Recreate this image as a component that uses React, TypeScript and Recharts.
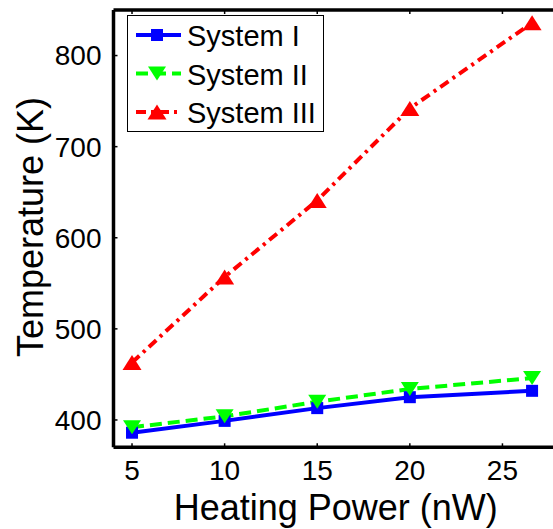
import React from "react";
import { LineChart, Line, XAxis, YAxis, Legend, ReferenceLine } from "recharts";

// heating power (nW) and temperature (K)
const power = [5, 10, 15, 20, 26.6];
const systemI = [386, 399, 413, 425, 432];
const systemII = [392, 404, 420, 434, 446];
const systemIII = [463, 557, 641, 742, 836];

const seriesNames = ["System I", "System II", "System III"];
const xTicks = [5, 10, 15, 20, 25];
const yTicks = [400, 500, 600, 700, 800];

const FONT = "'Liberation Sans', Arial, Helvetica, sans-serif";
const BLUE = "#0000ff";
const GREEN = "#00ff00";
const RED = "#ff0000";

const data = power.map((p, i) => ({
  power: p,
  s1: systemI[i],
  s2: systemII[i],
  s3: systemIII[i],
}));

function Square(props: any) {
  const { cx, cy } = props;
  if (cx == null || cy == null) return null;
  return <rect x={cx - 6} y={cy - 6} width={12} height={12} fill={BLUE} />;
}

function TriDown(props: any) {
  const { cx, cy } = props;
  if (cx == null || cy == null) return null;
  return <polygon points={`${cx - 9},${cy - 7} ${cx + 9},${cy - 7} ${cx},${cy + 7}`} fill={GREEN} />;
}

function TriUp(props: any) {
  const { cx, cy } = props;
  if (cx == null || cy == null) return null;
  return <polygon points={`${cx - 9.5},${cy + 7.5} ${cx + 9.5},${cy + 7.5} ${cx},${cy - 7.5}`} fill={RED} />;
}

const legendStyles = [
  { color: BLUE, dash: undefined as string | undefined, Marker: Square },
  { color: GREEN, dash: "12 6", Marker: TriDown },
  { color: RED, dash: "10 5 3 5", Marker: TriUp },
];

function LegendBox() {
  return (
    <svg width={197} height={117} style={{ display: "block" }}>
      <rect x={0.5} y={0.5} width={196} height={116} fill="#fff" stroke="#000" strokeWidth={1} />
      {seriesNames.map((name, i) => {
        const y = 20 + i * 38.5;
        const st = legendStyles[i];
        const M = st.Marker;
        return (
          <g key={name}>
            <line x1={9} x2={54} y1={y} y2={y} stroke={st.color} strokeWidth={4} strokeDasharray={st.dash} />
            <M cx={30} cy={y} />
            <text x={60} y={y + 11} fontSize={29} fontFamily={FONT} fill="#000">
              {name}
            </text>
          </g>
        );
      })}
    </svg>
  );
}

function YTitle() {
  const x = 43;
  const y = 227;
  return (
    <text x={x} y={y} transform={`rotate(-90, ${x}, ${y})`} textAnchor="middle" fontSize={36} fontFamily={FONT} fill="#000">
      Temperature (K)
    </text>
  );
}

export default function App() {
  // the figure is cropped on the right: the plot frame runs a few pixels past the page edge
  return (
    <div style={{ position: "absolute", left: 0, top: 0, width: 553, height: 529, overflow: "hidden", background: "#fff" }}>
      <LineChart width={553} height={529} data={data} margin={{ top: 10, right: -5, bottom: 0, left: 0 }}>
        <XAxis
          dataKey="power"
          type="number"
          domain={[4, 28]}
          ticks={xTicks}
          allowDataOverflow
          height={81.7}
          axisLine={{ stroke: "#000", strokeWidth: 3.5 }}
          tickLine={{ stroke: "#000", strokeWidth: 1.5 }}
          tickSize={-4}
          tickMargin={17}
          tick={{ fontSize: 28, fill: "#000", fontFamily: FONT }}
          label={{ value: "Heating Power (nW)", position: "insideBottom", offset: 9, fontSize: 36, fill: "#000", fontFamily: FONT }}
        />
        <YAxis
          type="number"
          domain={[370, 850]}
          ticks={yTicks}
          allowDataOverflow
          width={113.5}
          axisLine={{ stroke: "#000", strokeWidth: 3.5 }}
          tickLine={{ stroke: "#000", strokeWidth: 1.5 }}
          tickSize={-4}
          tickMargin={16}
          tick={{ fontSize: 28, fill: "#000", fontFamily: FONT }}
          label={<YTitle />}
        />
        <ReferenceLine y={850} stroke="#000" strokeWidth={3.5} ifOverflow="visible" />
        {xTicks.map((t) => (
          <ReferenceLine key={t} segment={[{ x: t, y: 850 }, { x: t, y: 845.6 }]} stroke="#000" strokeWidth={1.5} ifOverflow="visible" />
        ))}
        <Legend
          layout="horizontal"
          verticalAlign="middle"
          align="center"
          content={() => <LegendBox />}
          wrapperStyle={{ position: "absolute", left: 127, top: 15, width: 197, height: 117 }}
        />
        <Line dataKey="s1" name={seriesNames[0]} stroke={BLUE} strokeWidth={4} dot={<Square />} activeDot={false} isAnimationActive={false} />
        <Line dataKey="s2" name={seriesNames[1]} stroke={GREEN} strokeWidth={4} strokeDasharray="12 6" dot={<TriDown />} activeDot={false} isAnimationActive={false} />
        <Line dataKey="s3" name={seriesNames[2]} stroke={RED} strokeWidth={4} strokeDasharray="10 5 3 5" dot={<TriUp />} activeDot={false} isAnimationActive={false} />
      </LineChart>
    </div>
  );
}
